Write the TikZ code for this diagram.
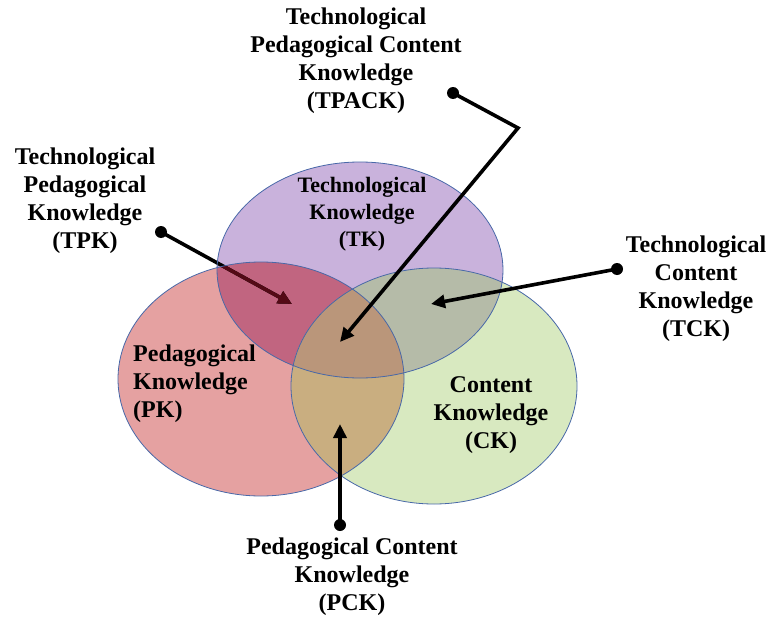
\documentclass[tikz,border=0pt]{standalone}
\usepackage{fontspec}
\setmainfont{Liberation Serif}
\usetikzlibrary{arrows.meta}
\definecolor{tkcol}{RGB}{201,178,220}
\definecolor{pkcol}{RGB}{229,161,161}
\definecolor{ckcol}{RGB}{216,233,192}
\definecolor{tpkcol}{RGB}{193,101,128}
\definecolor{tckcol}{RGB}{181,187,168}
\definecolor{pckcol}{RGB}{201,174,128}
\definecolor{tpackcol}{RGB}{186,150,122}
\definecolor{rimcol}{RGB}{72,104,168}
\definecolor{maroon}{RGB}{84,10,22}
\tikzset{
    lbl/.style={font=\bfseries\fontsize{24}{28}\selectfont, align=center, inner sep=0pt},
    rim/.style={draw=rimcol, line width=0.8pt},
    pin/.style={line width=3.6pt, line join=miter, -{Triangle[length=14pt,width=13pt]}},
}
\begin{document}
\begin{tikzpicture}[x=1pt,y=-1pt]
    \useasboundingbox (0,0) rectangle (771,618);
    % circles
    \coordinate (tk) at (360,270);
    \coordinate (pk) at (261,379);
    \coordinate (ck) at (434,386);
    \def \tkE {(tk) ellipse [x radius=143, y radius=108]}
    \def \pkE {(pk) ellipse [x radius=143, y radius=117]}
    \def \ckE {(ck) ellipse [x radius=143, y radius=118]}
    \fill[tkcol] \tkE;
    \fill[pkcol] \pkE;
    \fill[ckcol] \ckE;
    \begin{scope}
    \clip \tkE;
    \fill[tpkcol] \pkE;
    \fill[tckcol] \ckE;
    \end{scope}
    \begin{scope}
    \clip \pkE;
    \fill[pckcol] \ckE;
    \end{scope}
    \begin{scope}
    \clip \tkE;
    \clip \pkE;
    \fill[tpackcol] \ckE;
    \end{scope}
    % TPK arrow sits under the red circle
    \coordinate (dTPK) at (161,232);
    \coordinate (tTPK) at (292,304);
    \draw[pin] (dTPK) -- (tTPK);
    \begin{scope}
    \clip \pkE;
    \draw[pin, maroon] (dTPK) -- (tTPK);
    \end{scope}
    \fill (dTPK) circle (6pt);
    \draw[rim] \tkE;
    \draw[rim] \pkE;
    \draw[rim] \ckE;
    % labels
    \node[lbl] (TPACK) at (356,61) {Technological\\Pedagogical Content\\Knowledge\\(TPACK)};
    \node[lbl] (TPK) at (85,201) {Technological\\Pedagogical\\Knowledge\\(TPK)};
    \node[lbl] (TCK) at (696,289) {Technological\\Content\\Knowledge\\(TCK)};
    \node[lbl] (PCK) at (352,577) {Pedagogical Content\\Knowledge\\(PCK)};
    \node[lbl, font=\bfseries\fontsize{22}{27}\selectfont] (TK) at (362,214) {Technological\\Knowledge\\(TK)};
    \node[lbl, align=left, anchor=west] (PK) at (133,384) {Pedagogical\\Knowledge\\(PK)};
    \node[lbl] (CK) at (491,415) {Content\\Knowledge\\(CK)};
    % pointers
    \coordinate (dTPACK) at (453,93);
    \coordinate (kTPACK) at (518,128);
    \coordinate (tTPACK) at (340,342);
    \coordinate (dTCK) at (617,269);
    \coordinate (tTCK) at (431,304);
    \coordinate (dPCK) at (340,525);
    \coordinate (tPCK) at (340,424);
    \draw[pin] (dTPACK) -- (kTPACK) -- (tTPACK);
    \draw[pin] (dTCK) -- (tTCK);
    \draw[pin] (dPCK) -- (tPCK);
    \foreach \d in {dTPACK, dTCK, dPCK}
        \fill (\d) circle (6pt);
\end{tikzpicture}
\end{document}
